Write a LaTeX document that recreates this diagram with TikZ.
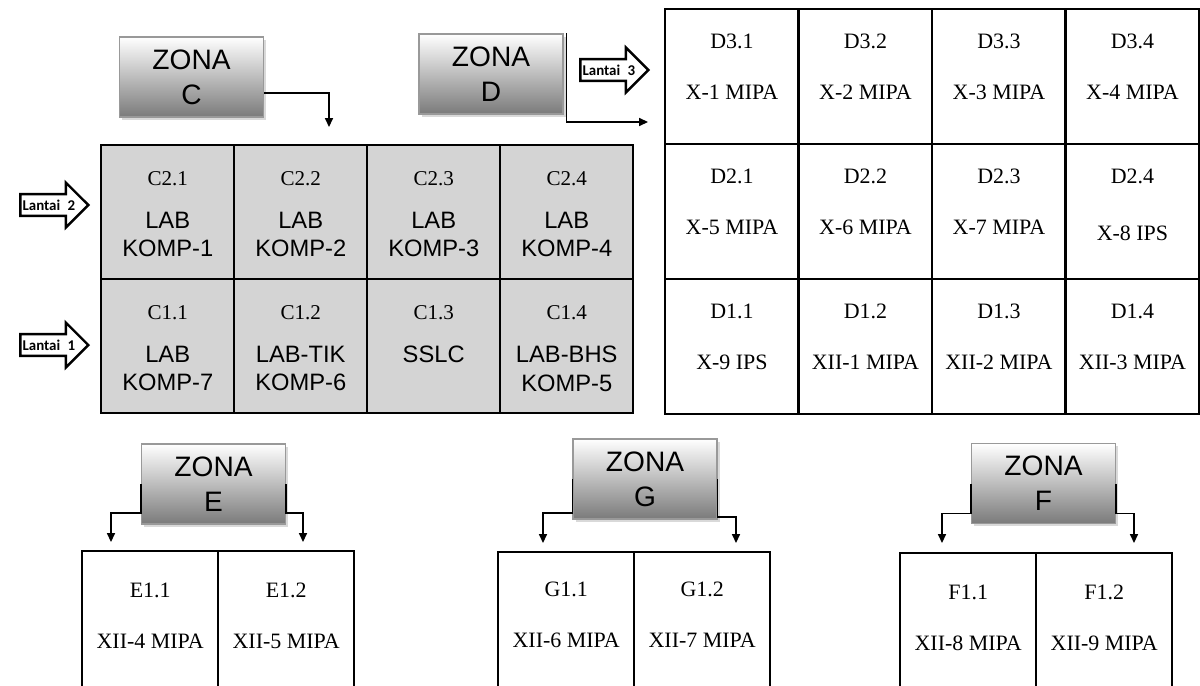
\documentclass[tikz,border=0pt]{standalone}
\usepackage{fontspec}
\setmainfont{Liberation Serif}
\setsansfont{Liberation Sans}
\newfontfamily\lantaifont{Carlito}
\usetikzlibrary{positioning, calc, shapes.arrows, arrows.meta, shadows}
\tikzset{room/.style={draw,line width=1.4pt,anchor=north west,inner sep=0pt,
        minimum width=2.66cm,minimum height=2.68cm},
    lab room/.style={room,fill=black!17},
    d room/.style={room,minimum width=2.67cm,minimum height=2.7cm},
    low room/.style={room,minimum width=2.72cm,minimum height=3cm},
    room id/.style={anchor=base,inner sep=0pt,font=\fontsize{12}{14}\selectfont},
    lab text/.style={anchor=north,align=center,inner sep=0pt,
        font=\sffamily\fontsize{13.5}{16}\selectfont},
    room text/.style={anchor=north,align=center,inner sep=0pt,
        font=\fontsize{12.5}{29}\selectfont},
    zone/.style={draw=black!40,line width=0.6pt,top color=white,bottom color=black!52,
        minimum width=2.88cm,minimum height=1.6cm,inner sep=0pt,align=center,
        font=\sffamily\fontsize{16}{20}\selectfont,
        drop shadow={opacity=0.3,shadow xshift=1.5pt,shadow yshift=-1.5pt}},
    floor/.style={single arrow,draw,line width=1.4pt,fill=white,anchor=tip,
        single arrow head extend=0.23cm,inner xsep=0.5pt,inner ysep=2.5pt,
        font=\lantaifont\bfseries\fontsize{8.5}{9}\selectfont},
    conn/.style={draw,line width=0.8pt,-{Triangle[length=5pt,width=4.5pt]}}}

\begin{document}
\begin{tikzpicture}[x=0.02cm, y=-0.02cm]
\useasboundingbox (0,0) rectangle (1200,686);
\clip (0,0) rectangle (1200,686);

% Zona C, lantai 2 and lantai 1 (grey labs)
\node[lab room] (c21) at (100,144) {};
\node[lab room] (c22) at (233,144) {};
\node[lab room] (c23) at (366,144) {};
\node[lab room] (c24) at (499,144) {};
\node[lab room] (c11) at (100,278) {};
\node[lab room] (c12) at (233,278) {};
\node[lab room] (c13) at (366,278) {};
\node[lab room] (c14) at (499,278) {};

\node[room id] (c21id) at ($(c21.north)+(0,41)$) {C2.1};
\node[room id] (c22id) at ($(c22.north)+(0,41)$) {C2.2};
\node[room id] (c23id) at ($(c23.north)+(0,41)$) {C2.3};
\node[room id] (c24id) at ($(c24.north)+(0,41)$) {C2.4};
\node[room id] (c11id) at ($(c11.north)+(0,41)$) {C1.1};
\node[room id] (c12id) at ($(c12.north)+(0,41)$) {C1.2};
\node[room id] (c13id) at ($(c13.north)+(0,41)$) {C1.3};
\node[room id] (c14id) at ($(c14.north)+(0,41)$) {C1.4};

\node[lab text] (c21t) at ($(c21.north)+(0,68)$) {LAB\\KOMP-1};
\node[lab text] (c22t) at ($(c22.north)+(0,68)$) {LAB\\KOMP-2};
\node[lab text] (c23t) at ($(c23.north)+(0,68)$) {LAB\\KOMP-3};
\node[lab text] (c24t) at ($(c24.north)+(0,68)$) {LAB\\KOMP-4};
\node[lab text] (c11t) at ($(c11.north)+(0,68)$) {LAB\\KOMP-7};
\node[lab text] (c12t) at ($(c12.north)+(0,68)$) {LAB-TIK\\KOMP-6};
\node[lab text] (c13t) at ($(c13.north)+(0,68)$) {SSLC};
\node[lab text] (c14t) at ($(c14.north)+(0,68)$) {LAB-BHS\\KOMP-5};

% Zona D, three floors of classrooms
\node[d room] (d31) at (664,8) {};
\node[d room] (d32) at (797.5,8) {};
\node[d room] (d33) at (931,8) {};
\node[d room] (d34) at (1064.5,8) {};
\node[d room] (d21) at (664,143) {};
\node[d room] (d22) at (797.5,143) {};
\node[d room] (d23) at (931,143) {};
\node[d room] (d24) at (1064.5,143) {};
\node[d room] (d11) at (664,278) {};
\node[d room] (d12) at (797.5,278) {};
\node[d room] (d13) at (931,278) {};
\node[d room] (d14) at (1064.5,278) {};

\node[room text] (d31t) at ($(d31.north)+(0,26)$) {D3.1\\X-1 MIPA};
\node[room text] (d32t) at ($(d32.north)+(0,26)$) {D3.2\\X-2 MIPA};
\node[room text] (d33t) at ($(d33.north)+(0,26)$) {D3.3\\X-3 MIPA};
\node[room text] (d34t) at ($(d34.north)+(0,26)$) {D3.4\\X-4 MIPA};
\node[room text] (d21t) at ($(d21.north)+(0,26)$) {D2.1\\X-5 MIPA};
\node[room text] (d22t) at ($(d22.north)+(0,26)$) {D2.2\\X-6 MIPA};
\node[room text] (d23t) at ($(d23.north)+(0,26)$) {D2.3\\X-7 MIPA};
\node[room text] (d24t) at ($(d24.north)+(0,26)$) {D2.4\\[3.5pt]X-8 IPS};
\node[room text] (d11t) at ($(d11.north)+(0,26)$) {D1.1\\X-9 IPS};
\node[room text] (d12t) at ($(d12.north)+(0,26)$) {D1.2\\XII-1 MIPA};
\node[room text] (d13t) at ($(d13.north)+(0,26)$) {D1.3\\XII-2 MIPA};
\node[room text] (d14t) at ($(d14.north)+(0,26)$) {D1.4\\XII-3 MIPA};

% Zona E, G and F (bottom row, cut off by the page)
\node[low room] (e11) at (81,550) {};
\node[low room] (e12) at (217,550) {};
\node[low room] (g11) at (497,551) {};
\node[low room] (g12) at (633,551) {};
\node[low room] (f11) at (899,552) {};
\node[low room] (f12) at (1035,552) {};

\node[room text] (e11t) at ($(e11.north)+(0,33)$) {E1.1\\XII-4 MIPA};
\node[room text] (e12t) at ($(e12.north)+(0,33)$) {E1.2\\XII-5 MIPA};
\node[room text] (g11t) at ($(g11.north)+(0,31)$) {G1.1\\XII-6 MIPA};
\node[room text] (g12t) at ($(g12.north)+(0,31)$) {G1.2\\XII-7 MIPA};
\node[room text] (f11t) at ($(f11.north)+(0,33)$) {F1.1\\XII-8 MIPA};
\node[room text] (f12t) at ($(f12.north)+(0,33)$) {F1.2\\XII-9 MIPA};

% Zone labels
\node[zone] (zC) at (191.5,77) {ZONA\\C};
\node[zone] (zD) at (491,74) {ZONA\\D};
\node[zone] (zE) at (213.5,484) {ZONA\\E};
\node[zone] (zG) at (645,479) {ZONA\\G};
\node[zone] (zF) at (1043.5,483.5) {ZONA\\F};

% Arrow ends
\coordinate (tipC) at (329,127);
\coordinate (tipD) at (648,122);
\coordinate (tipE1) at (111,542);
\coordinate (tipE2) at (303,542);
\coordinate (tipG1) at (543,543);
\coordinate (tipG2) at (736,543);
\coordinate (tipF1) at (942,543);
\coordinate (tipF2) at (1134,543);

% Connectors from the zone labels
\draw[conn] ($(zC.east)+(0,16)$) -| (tipC);
\draw[conn] ([xshift=0.06cm]zD.north east) |- (tipD);
\draw[conn] (zE.west) -- ++(0,29) -| (tipE1);
\draw[conn] (zE.east) -- ++(0,29) -| (tipE2);
\draw[conn] (zG.west) -- ++(0,34) -| (tipG1);
\draw[conn] (zG.east) -- ++(0,38) -| (tipG2);
\draw[conn] (zF.west) -- ++(0,30) -| (tipF1);
\draw[conn] (zF.east) -- ++(0,30) -| (tipF2);

% Floor markers
\node[floor] (lt3) at (650,70) {Lantai\enspace 3};
\node[floor] (lt2) at (90,205) {Lantai\enspace 2};
\node[floor] (lt1) at (90,345) {Lantai\enspace 1};
\end{tikzpicture}
\end{document}
